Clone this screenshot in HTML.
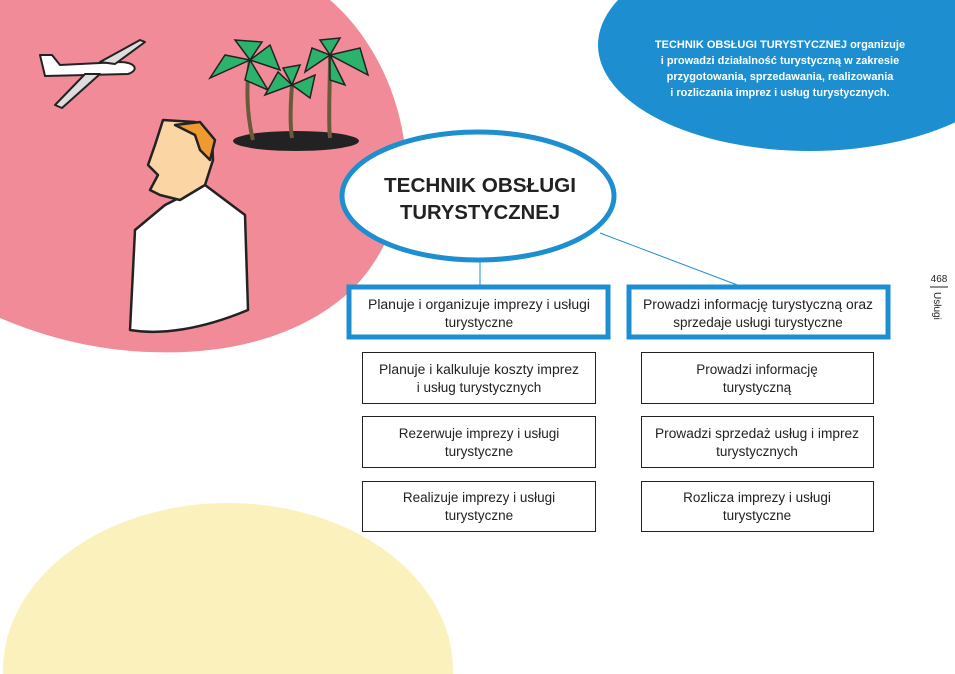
<!DOCTYPE html>
<html><head><meta charset="utf-8"><style>
html,body{margin:0;padding:0;background:#fff;width:955px;height:674px;overflow:hidden}
svg{display:block}
text{font-family:"Liberation Sans",sans-serif}
</style></head><body>
<svg width="955" height="674" viewBox="0 0 955 674" xmlns="http://www.w3.org/2000/svg">
<ellipse cx="228" cy="670" rx="225" ry="167" fill="#fbf1bd"/>
<path d="M0 0 L330 0 C365 30 395 80 404 140 C410 200 385 265 340 300 C290 340 220 355 150 352 C90 350 40 335 0 318 Z" fill="#f28b98"/>
<ellipse cx="810" cy="45" rx="212" ry="106" fill="#1d8fd0"/>
<g font-size="11" font-weight="bold" fill="#fff" text-anchor="middle" textLength="250">
<text x="780" y="48"><tspan font-weight="900">TECHNIK OBSŁUGI TURYSTYCZNEJ</tspan> organizuje</text>
<text x="780" y="64">i prowadzi działalność turystyczną w zakresie</text>
<text x="780" y="80">przygotowania, sprzedawania, realizowania</text>
<text x="780" y="96">i rozliczania imprez i usług turystycznych.</text>
</g>
<!-- plane -->
<g stroke="#222" stroke-width="2" stroke-linejoin="round">
<path d="M40 55 L52 55 L60 65 L120 62 C135 62 140 70 128 74 L45 76 Z" fill="#fff"/>
<path d="M100 62 L140 40 L145 42 L115 64 Z" fill="#ddd"/>
<path d="M85 74 L55 105 L62 108 L100 74 Z" fill="#ddd"/>
</g>
<!-- palms -->
<ellipse cx="296" cy="141" rx="63" ry="10" fill="#222"/>
<g stroke="#6a5a3a" stroke-width="4" fill="none"><path d="M250 60 C245 90 248 120 253 140"/><path d="M292 85 C290 110 290 125 292 138"/><path d="M330 55 C330 90 328 120 330 138"/></g>
<g fill="#2bb36b" stroke="#222" stroke-width="1.5">
<path d="M250 60 L210 78 L225 55 Z M250 60 L270 45 L280 70 Z M250 60 L235 40 L262 42 Z M250 60 L268 90 L245 80 Z"/>
<path d="M292 85 L265 95 L278 72 Z M292 85 L315 75 L310 98 Z M292 85 L300 65 L283 68 Z"/>
<path d="M330 55 L305 72 L312 48 Z M330 55 L360 48 L368 75 Z M330 55 L340 38 L320 40 Z M330 55 L345 85 L330 80 Z"/>
</g>
<!-- man -->
<g stroke="#222" stroke-width="2.5" stroke-linejoin="round">
<path d="M130 330 L135 230 L165 205 L205 185 L245 215 L248 310 C200 330 160 335 130 330 Z" fill="#fff"/>
<path d="M163 120 L195 122 L212 140 L213 160 L205 185 L180 200 L160 195 L150 190 L158 175 L148 165 L155 145 Z" fill="#fbd6a4"/>
<path d="M175 125 L200 122 L215 140 L210 160 L200 150 L195 135 Z" fill="#ef9a30"/>
</g>
<!-- connectors -->
<line x1="480" y1="258" x2="480" y2="286" stroke="#1d8fd0" stroke-width="1"/>
<line x1="600" y1="233" x2="740" y2="286" stroke="#1d8fd0" stroke-width="1"/>
<!-- central ellipse -->
<ellipse cx="478" cy="196" rx="136" ry="64" fill="#fff" stroke="#1d8fd0" stroke-width="5"/>
<g font-size="20" font-weight="bold" fill="#222" text-anchor="middle">
<text x="480" y="192" textLength="192" lengthAdjust="spacingAndGlyphs">TECHNIK OBSŁUGI</text>
<text x="480" y="219" textLength="160" lengthAdjust="spacingAndGlyphs">TURYSTYCZNEJ</text>
</g>
<g fill="#fff" stroke="#1d8fd0" stroke-width="5">
<rect x="349" y="287" width="259" height="50"/>
<rect x="629" y="287" width="259" height="50"/>
</g>
<g fill="#fff" stroke="#222" stroke-width="1">
<rect x="362.5" y="352.5" width="233" height="51"/>
<rect x="362.5" y="416.5" width="233" height="51"/>
<rect x="362.5" y="481.5" width="233" height="50"/>
<rect x="641.5" y="352.5" width="232" height="51"/>
<rect x="641.5" y="416.5" width="232" height="51"/>
<rect x="641.5" y="481.5" width="232" height="50"/>
</g>
<g font-size="13.5" fill="#222" text-anchor="middle" lengthAdjust="spacingAndGlyphs">
<text x="479" y="309" textLength="222" lengthAdjust="spacingAndGlyphs">Planuje i organizuje imprezy i usługi</text>
<text x="479" y="327">turystyczne</text>
<text x="758" y="309" textLength="230" lengthAdjust="spacingAndGlyphs">Prowadzi informację turystyczną oraz</text>
<text x="758" y="327">sprzedaje usługi turystyczne</text>
<text x="479" y="374" textLength="200" lengthAdjust="spacingAndGlyphs">Planuje i kalkuluje koszty imprez</text>
<text x="479" y="392">i usług turystycznych</text>
<text x="479" y="438">Rezerwuje imprezy i usługi</text>
<text x="479" y="456">turystyczne</text>
<text x="479" y="502">Realizuje imprezy i usługi</text>
<text x="479" y="520">turystyczne</text>
<text x="757" y="374">Prowadzi informację</text>
<text x="757" y="392">turystyczną</text>
<text x="757" y="438" textLength="204" lengthAdjust="spacingAndGlyphs">Prowadzi sprzedaż usług i imprez</text>
<text x="757" y="456">turystycznych</text>
<text x="757" y="502">Rozlicza imprezy i usługi</text>
<text x="757" y="520">turystyczne</text>
</g>
<text x="939" y="282" font-size="10" fill="#222" text-anchor="middle">468</text>
<line x1="930" y1="287" x2="948" y2="287" stroke="#222" stroke-width="1"/>
<text transform="translate(934,292) rotate(90)" font-size="10" fill="#222">Usługi</text>
</svg>
</body></html>
